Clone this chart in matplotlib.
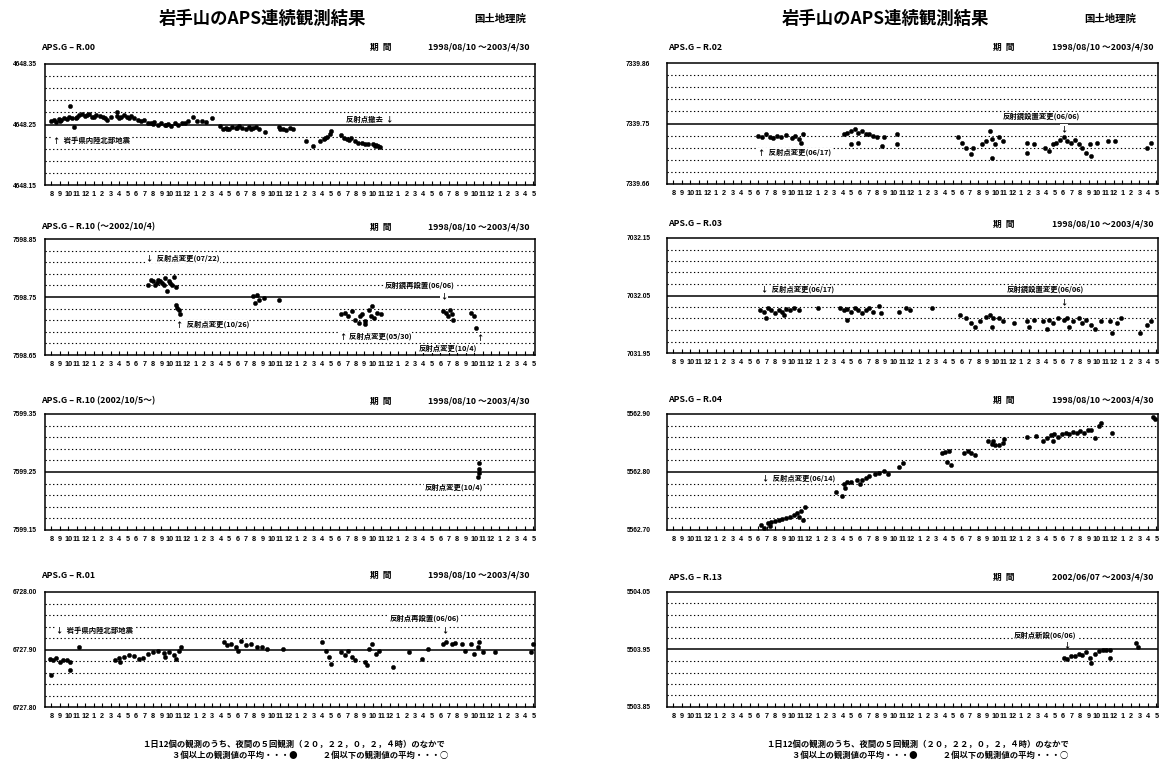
import matplotlib
matplotlib.use("Agg")
import matplotlib.pyplot as plt
import numpy as np

plt.rcParams['font.family'] = ['Noto Sans CJK JP', 'DejaVu Sans']

W, H = 1165, 768

# ---------------- data ----------------
month_labels = ['8', '9', '10', '11', '12'] + [str(i) for i in range(1, 13)] * 4 + ['1', '2', '3', '4', '5']

# R.00
r00_x = [0.0, 0.3, 0.6, 0.9, 1.2, 1.5, 1.8, 2.1, 2.2, 2.65, 2.5, 3.0, 3.3, 3.6, 4.0, 4.4, 4.8, 5.3, 5.7, 6.1,
         6.6, 7.0, 7.75, 7.8, 8.2, 8.6, 9.0, 9.4, 9.8, 10.2, 10.6, 11.0, 11.4, 11.8, 12.2, 12.6, 13.0, 13.4,
         13.8, 14.2, 14.6, 15.0, 15.4, 15.8, 16.2, 16.7, 17.2, 17.8, 18.3, 19.0, 20.0, 20.3, 20.6, 21.0, 21.4,
         21.8, 22.2, 22.6, 23.0, 23.4, 23.8, 24.2, 24.6, 25.3, 26.9, 27.4, 27.8, 28.2, 28.6, 30.1, 31.0, 31.8,
         32.2, 32.6, 32.9, 33.1, 34.3, 34.6, 35.0, 35.4, 35.9, 36.3, 36.7, 37.1, 38.0, 38.3, 38.6, 38.9,
         1.0, 2.9, 4.2, 5.0, 6.4, 8.0, 9.2, 12.0, 13.6, 20.8, 22.0, 23.6, 27.1, 32.4, 35.2, 37.5, 38.4]
r00_y = [4648.255, 4648.258, 4648.254, 4648.259, 4648.257, 4648.261, 4648.259, 4648.262, 4648.280, 4648.246,
         4648.260, 4648.263, 4648.265, 4648.268, 4648.264, 4648.268, 4648.262, 4648.266, 4648.264, 4648.262,
         4648.258, 4648.263, 4648.271, 4648.264, 4648.262, 4648.266, 4648.262, 4648.264, 4648.260, 4648.258,
         4648.255, 4648.257, 4648.253, 4648.252, 4648.254, 4648.250, 4648.252, 4648.249, 4648.251, 4648.248,
         4648.252, 4648.250, 4648.253, 4648.252, 4648.255, 4648.263, 4648.256, 4648.256, 4648.254, 4648.260,
         4648.247, 4648.243, 4648.245, 4648.242, 4648.246, 4648.244, 4648.247, 4648.245, 4648.243, 4648.246,
         4648.244, 4648.246, 4648.242, 4648.238, 4648.246, 4648.243, 4648.241, 4648.245, 4648.242, 4648.222,
         4648.214, 4648.222, 4648.226, 4648.230, 4648.235, 4648.239, 4648.232, 4648.228, 4648.226, 4648.227,
         4648.222, 4648.220, 4648.219, 4648.218, 4648.217, 4648.214, 4648.215, 4648.213,
         4648.256, 4648.261, 4648.266, 4648.263, 4648.260, 4648.261, 4648.261, 4648.251, 4648.250, 4648.243,
         4648.245, 4648.243, 4648.243, 4648.228, 4648.224, 4648.217, 4648.216]

# R.10 (~2002/10/4)
r10a_x = [11.43, 11.84, 12.04, 12.45, 12.65, 13.06, 13.47, 13.88, 14.29, 14.49, 14.69, 13.67, 12.86, 14.08,
          13.27, 12.24, 14.69, 14.90, 15.10, 15.18, 23.88, 24.29, 24.57, 24.08, 25.10, 26.94, 34.29, 34.69,
          35.10, 35.51, 35.92, 36.33, 36.73, 37.14, 37.55, 37.76, 38.16, 38.57, 38.98, 37.96, 37.14, 36.53,
          46.33, 46.73, 46.94, 47.35, 47.55, 47.14, 49.59, 50.00, 50.20]
r10a_y = [7598.771, 7598.780, 7598.777, 7598.774, 7598.780, 7598.774, 7598.783, 7598.777, 7598.771, 7598.785,
          7598.768, 7598.760, 7598.778, 7598.774, 7598.770, 7598.771, 7598.737, 7598.731, 7598.728, 7598.720,
          7598.751, 7598.753, 7598.745, 7598.740, 7598.748, 7598.745, 7598.720, 7598.723, 7598.717, 7598.725,
          7598.711, 7598.705, 7598.720, 7598.708, 7598.728, 7598.717, 7598.714, 7598.723, 7598.720, 7598.734,
          7598.703, 7598.717, 7598.725, 7598.723, 7598.717, 7598.720, 7598.711, 7598.728, 7598.723, 7598.717,
          7598.697]

# R.10 (2002/10/5~)
r10b_x = [50.53, 50.61, 50.53, 50.49]
r10b_y = [7599.265, 7599.256, 7599.248, 7599.242]

# R.01
r01_x = [-0.2, 0.2, 0.61, 1.02, 1.43, 1.84, 2.24, 0.0, 2.24, 3.27, 7.55, 7.96, 8.57, 9.18, 9.80, 10.41, 10.82,
         8.16, 11.43, 12.04, 12.65, 13.27, 13.88, 14.49, 15.10, 15.31, 13.47, 14.69, 20.41, 20.82, 21.22, 21.84,
         22.45, 23.06, 23.67, 24.29, 24.90, 25.51, 22.04, 27.35, 32.04, 32.45, 32.86, 33.06, 34.29, 34.69, 35.10,
         35.51, 35.92, 37.14, 37.55, 37.96, 38.37, 38.78, 37.35, 40.41, 42.24, 43.88, 44.49, 46.33, 46.73, 47.35,
         47.76, 48.57, 48.98, 49.59, 50.00, 50.41, 50.61, 51.02, 52.45, 56.73, 56.94]
r01_y = [6727.884, 6727.881, 6727.886, 6727.878, 6727.882, 6727.881, 6727.879, 6727.855, 6727.864, 6727.904,
         6727.881, 6727.886, 6727.887, 6727.890, 6727.888, 6727.884, 6727.886, 6727.878, 6727.893, 6727.895,
         6727.897, 6727.894, 6727.895, 6727.891, 6727.898, 6727.904, 6727.887, 6727.884, 6727.913, 6727.907,
         6727.910, 6727.904, 6727.914, 6727.907, 6727.909, 6727.905, 6727.904, 6727.901, 6727.898, 6727.901,
         6727.913, 6727.898, 6727.887, 6727.875, 6727.895, 6727.890, 6727.898, 6727.887, 6727.881, 6727.878,
         6727.901, 6727.910, 6727.893, 6727.897, 6727.873, 6727.870, 6727.895, 6727.884, 6727.901, 6727.910,
         6727.913, 6727.910, 6727.911, 6727.910, 6727.898, 6727.910, 6727.893, 6727.904, 6727.913, 6727.895,
         6727.895, 6727.895, 6727.910]

# R.02
r02_x = [10.04, 10.48, 10.92, 11.35, 11.79, 12.23, 12.66, 13.32, 13.97, 14.41, 14.85, 15.28, 15.07, 20.09,
         20.52, 20.96, 21.40, 21.83, 22.27, 22.71, 23.14, 23.58, 24.02, 20.96, 21.83, 24.67, 24.89, 26.42,
         26.42, 33.62, 34.06, 34.50, 35.15, 35.37, 36.46, 36.90, 37.34, 37.55, 37.99, 38.43, 38.86, 37.55,
         41.70, 41.70, 42.58, 43.89, 44.32, 44.76, 45.20, 45.63, 46.07, 46.51, 46.94, 47.38, 47.82, 48.25,
         48.69, 49.13, 49.34, 50.00, 51.31, 52.18, 55.90, 56.33]
r02_y = [7339.734, 7339.732, 7339.737, 7339.733, 7339.731, 7339.734, 7339.732, 7339.736, 7339.731, 7339.734,
         7339.729, 7339.737, 7339.723, 7339.737, 7339.740, 7339.743, 7339.746, 7339.740, 7339.742, 7339.738,
         7339.737, 7339.734, 7339.732, 7339.721, 7339.723, 7339.718, 7339.732, 7339.737, 7339.721, 7339.732,
         7339.723, 7339.715, 7339.704, 7339.715, 7339.721, 7339.726, 7339.743, 7339.729, 7339.721, 7339.732,
         7339.726, 7339.698, 7339.723, 7339.707, 7339.721, 7339.715, 7339.709, 7339.721, 7339.723, 7339.727,
         7339.732, 7339.726, 7339.723, 7339.727, 7339.721, 7339.715, 7339.707, 7339.721, 7339.701, 7339.723,
         7339.726, 7339.726, 7339.715, 7339.723]

# R.03
r03_x = [10.26, 10.70, 11.14, 11.57, 12.01, 12.45, 12.88, 13.32, 13.76, 14.19, 14.85, 10.92, 13.10, 17.03,
         19.65, 20.09, 20.52, 20.96, 21.40, 21.83, 22.27, 22.71, 23.14, 23.58, 24.24, 24.45, 20.52, 26.64,
         27.51, 27.95, 30.57, 33.84, 34.50, 35.15, 35.59, 36.24, 36.90, 37.34, 37.77, 38.43, 38.86, 37.55,
         40.17, 41.70, 42.58, 41.92, 43.67, 44.32, 44.76, 45.41, 46.07, 46.51, 47.16, 47.82, 48.25, 48.69,
         49.34, 49.78, 50.44, 44.10, 46.72, 51.53, 52.40, 52.84, 51.75, 55.02, 55.90, 56.33]
r03_y = [7032.025, 7032.022, 7032.028, 7032.024, 7032.019, 7032.025, 7032.022, 7032.026, 7032.024, 7032.028,
         7032.025, 7032.011, 7032.016, 7032.028, 7032.028, 7032.025, 7032.026, 7032.022, 7032.029, 7032.024,
         7032.019, 7032.025, 7032.028, 7032.022, 7032.031, 7032.019, 7032.008, 7032.022, 7032.028, 7032.025,
         7032.028, 7032.016, 7032.011, 7032.002, 7031.996, 7032.005, 7032.013, 7032.016, 7032.011, 7032.011,
         7032.005, 7031.996, 7032.002, 7032.005, 7032.008, 7031.996, 7032.005, 7032.008, 7032.002, 7032.011,
         7032.008, 7032.011, 7032.005, 7032.011, 7032.002, 7032.008, 7031.999, 7031.991, 7032.005, 7031.991,
         7031.996, 7032.005, 7032.002, 7032.011, 7031.985, 7031.985, 7031.999, 7032.005]

# R.04
r04_x = [10.39, 10.70, 11.14, 11.57, 12.01, 12.45, 12.88, 13.32, 13.76, 14.19, 14.63, 15.07, 15.50, 14.85,
         15.28, 11.35, 19.21, 19.87, 20.09, 20.52, 20.96, 21.62, 22.27, 22.71, 23.14, 23.80, 24.24, 24.89,
         25.33, 20.31, 22.05, 26.64, 27.07, 31.66, 32.10, 32.53, 32.31, 32.75, 34.28, 34.72, 35.15, 35.59,
         37.12, 37.55, 37.99, 38.43, 38.86, 39.08, 37.77, 41.70, 42.79, 43.67, 44.10, 44.54, 44.98, 45.41,
         45.85, 46.29, 46.72, 47.16, 47.60, 48.03, 48.47, 48.91, 49.34, 49.78, 50.22, 50.44, 44.76, 51.75,
         56.60, 56.80]
r04_y = [5562.709, 5562.704, 5562.712, 5562.713, 5562.715, 5562.718, 5562.719, 5562.721, 5562.723, 5562.726,
         5562.729, 5562.732, 5562.740, 5562.723, 5562.718, 5562.707, 5562.765, 5562.759, 5562.779, 5562.782,
         5562.783, 5562.787, 5562.786, 5562.790, 5562.793, 5562.797, 5562.798, 5562.801, 5562.796, 5562.773,
         5562.780, 5562.809, 5562.815, 5562.832, 5562.834, 5562.837, 5562.818, 5562.812, 5562.832, 5562.836,
         5562.833, 5562.829, 5562.854, 5562.848, 5562.846, 5562.847, 5562.850, 5562.857, 5562.854, 5562.861,
         5562.862, 5562.854, 5562.859, 5562.863, 5562.865, 5562.861, 5562.865, 5562.868, 5562.865, 5562.869,
         5562.868, 5562.871, 5562.868, 5562.872, 5562.873, 5562.859, 5562.879, 5562.884, 5562.854, 5562.868,
         5562.894, 5562.891]

# R.13
r13_x = [46.07, 46.51, 46.94, 47.38, 47.82, 48.25, 48.69, 49.13, 49.34, 49.78, 50.22, 50.66, 51.10, 51.53,
         51.53, 54.59, 54.80]
r13_y = [5503.936, 5503.934, 5503.939, 5503.938, 5503.942, 5503.940, 5503.945, 5503.936, 5503.926, 5503.942,
         5503.947, 5503.950, 5503.950, 5503.950, 5503.936, 5503.961, 5503.955]

# ---------------- figure ----------------
fig = plt.figure(figsize=(W / 100, H / 100), dpi=100)
fig.patch.set_facecolor('white')


def rect(x0, y0, x1, y1):
    return [x0 / W, 1 - y1 / H, (x1 - x0) / W, (y1 - y0) / H]


def ftext(x, y, s, **kw):
    kw.setdefault('fontweight', 'bold')
    fig.text(x / W, 1 - y / H, s, **kw)


LX0, LX1 = 45, 535
RX0, RX1 = 667, 1158

panels = [
    (LX0, LX1, 64, 185, (4648.15, 4648.35), ['4648.15', '4648.25', '4648.35'], (r00_x, r00_y),
     'APS.G – R.00', '1998/08/10 ～2003/4/30',
     [(34.9, 4648.258, '反射点撤去  ↓'), (0.2, 4648.224, '↑  岩手県内陸北部地震')], 47),
    (LX0, LX1, 239, 355, (7598.65, 7598.85), ['7598.65', '7598.75', '7598.85'], (r10a_x, r10a_y),
     'APS.G – R.10 (～2002/10/4)', '1998/08/10 ～2003/4/30',
     [(11.2, 7598.816, '↓  反射点変更(07/22)'), (14.7, 7598.703, '↑  反射点変更(10/26)'),
      (39.4, 7598.770, '反射鏡再設置(06/06)'), (46.0, 7598.752, '↓'),
      (34.1, 7598.682, '↑ 反射点変更(05/30)'), (50.2, 7598.681, '↑'),
      (43.5, 7598.661, '反射点変更(10/4)')], 227),
    (LX0, LX1, 414, 530, (7599.15, 7599.35), ['7599.15', '7599.25', '7599.35'], (r10b_x, r10b_y),
     'APS.G – R.10 (2002/10/5～)', '1998/08/10 ～2003/4/30',
     [(44.1, 7599.224, '反射点変更(10/4)')], 401),
    (LX0, LX1, 592, 707, (6727.80, 6728.00), ['6727.80', '6727.90', '6728.00'], (r01_x, r01_y),
     'APS.G – R.01', '1998/08/10 ～2003/4/30',
     [(0.6, 6727.933, '↓  岩手県内陸北部地震'), (40.0, 6727.955, '反射点再設置(06/06)'),
      (46.1, 6727.935, '↓')], 575),
    (RX0, RX1, 63, 184, (7339.655, 7339.855), ['7339.66', '7339.75', '7339.86'], (r02_x, r02_y),
     'APS.G – R.02', '1998/08/10 ～2003/4/30',
     [(10.0, 7339.707, '↑  反射点変更(06/17)'), (38.9, 7339.767, '反射鏡設置変更(06/06)'),
      (45.7, 7339.747, '↓')], 47),
    (RX0, RX1, 238, 353, (7031.95, 7032.15), ['7031.95', '7032.05', '7032.15'], (r03_x, r03_y),
     'APS.G – R.03', '1998/08/10 ～2003/4/30',
     [(10.3, 7032.060, '↓  反射点変更(06/17)'), (39.3, 7032.060, '反射鏡設置変更(06/06)'),
      (45.7, 7032.040, '↓')], 224),
    (RX0, RX1, 414, 530, (5562.70, 5562.90), ['5562.70', '5562.80', '5562.90'], (r04_x, r04_y),
     'APS.G – R.04', '1998/08/10 ～2003/4/30',
     [(10.5, 5562.790, '↓  反射点変更(06/14)')], 400),
    (RX0, RX1, 592, 707, (5503.85, 5504.05), ['5503.85', '5503.95', '5504.05'], (r13_x, r13_y),
     'APS.G – R.13', '2002/06/07 ～2003/4/30',
     [(40.2, 5503.975, '反射点新設(06/06)'), (46.0, 5503.959, '↓')], 577),
]

for (x0, x1, top, bot, ylim, ylabs, (dx, dy), sub, period, anns, suby) in panels:
    ax = fig.add_axes(rect(x0, top, x1, bot))
    ax.set_xlim(-0.75, 57.2)
    ax.set_ylim(*ylim)
    levels = np.linspace(ylim[0], ylim[1], 11)[1:-1]
    for i, lv in enumerate(levels):
        if i == 4:
            ax.axhline(lv, color='black', lw=1.1, zorder=1)
        else:
            ax.axhline(lv, color='black', lw=0.8, ls=(0, (1.2, 2.2)), zorder=1)
    ax.plot(dx, dy, 'o', ms=3.1, color='black', mec='black', mew=0.3, zorder=3)
    for spine in ax.spines.values():
        spine.set_linewidth(1.1)
    ax.set_xticks(range(len(month_labels)))
    ax.set_xticklabels(month_labels, fontsize=5.2, fontweight='bold',
                       family=['Liberation Sans Narrow', 'Liberation Sans', 'DejaVu Sans'])
    ax.tick_params(axis='x', direction='in', length=3, width=0.8, pad=4)
    ax.set_yticks([ylim[0], (ylim[0] + ylim[1]) / 2, ylim[1]])
    ax.set_yticklabels(ylabs, fontsize=4.8, fontweight='bold',
                       family=['Liberation Sans Narrow', 'Liberation Sans', 'DejaVu Sans'])
    ax.tick_params(axis='y', length=0, pad=6 if x0 < 600 else 12)
    for (ax_x, ax_y, s) in anns:
        ax.text(ax_x, ax_y, s, fontsize=5.3, fontweight='bold', va='center', ha='left',
                family=['Noto Sans CJK JP', 'DejaVu Sans'], zorder=4,
                bbox=dict(facecolor='white', edgecolor='none', pad=0.3))
    ftext(x0 - 4 if x0 < 600 else x0 + 1, suby, sub, fontsize=6.3, va='center', ha='left',
          family=['Liberation Sans Narrow', 'Noto Sans CJK JP', 'DejaVu Sans'])
    ftext(x1 - 165, suby, '期  間', fontsize=6.3, va='center', ha='left')
    ftext(x1 - 5, suby, period, fontsize=6.3, va='center', ha='right',
          family=['Liberation Sans Narrow', 'Noto Sans CJK JP', 'DejaVu Sans'])

# main titles
for cx, kx in [(262, 500), (885, 1110)]:
    ftext(cx, 19, '岩手山のAPS連続観測結果', fontsize=12.5, ha='center', va='center')
    ftext(kx, 19, '国土地理院', fontsize=7.5, ha='center', va='center')

# footers
for c1, c2 in [(294, 310), (918, 930)]:
    ftext(c1, 744, '１日12個の観測のうち、夜間の５回観測（２０，２２，０，２，４時）のなかで',
          fontsize=6.0, ha='center', va='center')
    ftext(c2, 755, '３個以上の観測値の平均・・・●　　　２個以下の観測値の平均・・・○',
          fontsize=6.0, ha='center', va='center')

fig.savefig('out.png', dpi=100, facecolor='white')
